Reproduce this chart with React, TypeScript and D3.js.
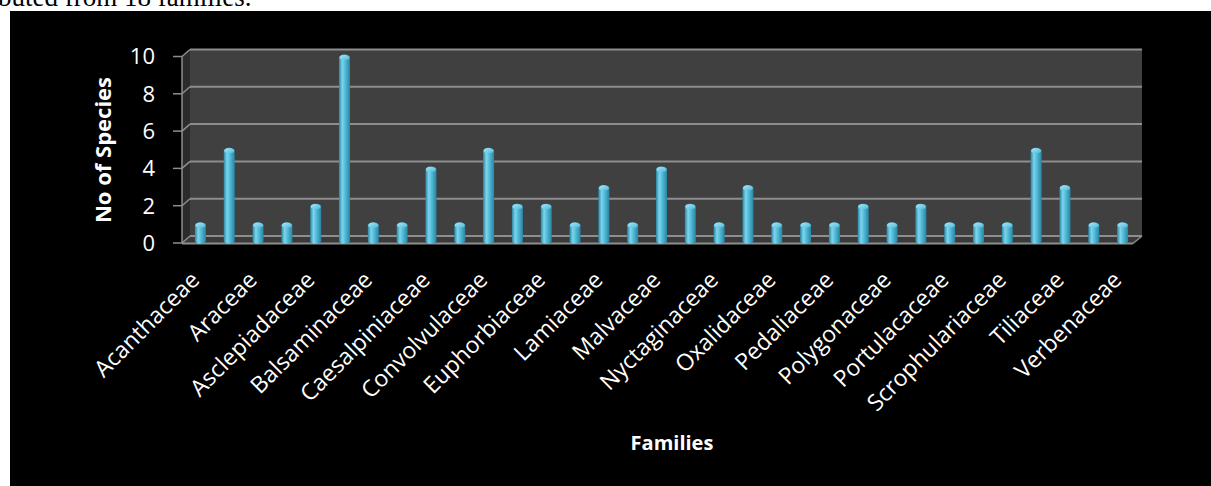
import React from "react";
import * as d3 from "d3";

const families = [
  "Acanthaceae", "Amaranthaceae", "Araceae", "Aristolochiaceae", "Asclepiadaceae",
  "Asteraceae", "Balsaminaceae", "Boraginaceae", "Caesalpiniaceae", "Capparaceae",
  "Convolvulaceae", "Cucurbitaceae", "Euphorbiaceae", "Fabaceae", "Lamiaceae",
  "Liliaceae", "Malvaceae", "Mimosaceae", "Nyctaginaceae", "Onagraceae",
  "Oxalidaceae", "Papilionaceae", "Pedaliaceae", "Poaceae", "Polygonaceae",
  "Pontederiaceae", "Portulacaceae", "Rubiaceae", "Scrophulariaceae", "Solanaceae",
  "Tiliaceae", "Urticaceae", "Verbenaceae",
];
const species = [
  1, 5, 1, 1, 2, 10, 1, 1, 4, 1, 5, 2, 2, 1, 3, 1, 4, 2, 1, 3, 1, 1, 1, 2, 1, 2, 1, 1, 1, 5, 3, 1, 1,
];
const yTicks = [0, 2, 4, 6, 8, 10];

const W = 1211;
const H = 486;
const X0 = 182;
const X1 = 1133;
const DX = 8;
const DY = -7;

export default function App() {
  const x = d3.scaleBand<string>().domain(families).range([X0, X1]).padding(0);
  const y = d3.scaleLinear().domain([0, 10]).range([243, 56.5]);
  const bw = 11;
  const font = "'Open Sans', 'DejaVu Sans', sans-serif";
  const grid = "#8e8e8e";

  return (
    <svg width={W} height={H} style={{ position: "absolute", left: 0, top: 0, display: "block" }}>
      <defs>
        <linearGradient id="cyl" x1="0" x2="1" y1="0" y2="0">
          <stop offset="0" stopColor="#2a87a3" />
          <stop offset="0.3" stopColor="#7ed4ec" />
          <stop offset="0.55" stopColor="#52bddb" />
          <stop offset="1" stopColor="#2a84a0" />
        </linearGradient>
        <linearGradient id="cap" x1="0" x2="1" y1="0" y2="1">
          <stop offset="0" stopColor="#a8e6f6" />
          <stop offset="1" stopColor="#4fb8d6" />
        </linearGradient>
      </defs>
      <rect x={0} y={0} width={W} height={H} fill="#ffffff" />
      <text x={-2} y={6} fontFamily="'Liberation Serif', 'Times New Roman', serif" fontSize={27} fill="#000">
        buted from 18 families.
      </text>
      <rect x={10} y={11} width={W - 10} height={H - 11} fill="#000000" />

      {/* back wall */}
      <rect x={X0 + DX} y={y(10) + DY} width={X1 + DX + 1 - (X0 + DX)} height={y(0) - y(10)} fill="#404040" />
      {/* side wall */}
      <polygon
        points={`${X0},${y(10)} ${X0 + DX},${y(10) + DY} ${X0 + DX},${y(0) + DY} ${X0},${y(0)}`}
        fill="#2b2b2b"
      />
      {/* floor */}
      <polygon
        points={`${X0},${y(0)} ${X0 + DX},${y(0) + DY} ${X1 + DX + 1},${y(0) + DY} ${X1},${y(0)}`}
        fill="#3a3a3a"
      />
      {/* gridlines */}
      {yTicks.map((t) => (
        <g key={t}>
          <line x1={X0 + DX} x2={X1 + DX + 1} y1={y(t) + DY} y2={y(t) + DY} stroke={grid} strokeWidth={2} />
          <line x1={X0} x2={X0 + DX} y1={y(t)} y2={y(t) + DY} stroke={grid} strokeWidth={1.5} />
          <line x1={X0 - 9} x2={X0} y1={y(t)} y2={y(t)} stroke={grid} strokeWidth={1.5} />
          <text
            x={155}
            y={y(t)}
            dy="0.36em"
            textAnchor="end"
            fontFamily={font}
            fontSize={22}
            fill="#ffffff"
          >
            {t}
          </text>
        </g>
      ))}
      {/* axis line and floor front edge */}
      <line x1={X0} x2={X0} y1={y(10)} y2={y(0)} stroke={grid} strokeWidth={1.5} />
      <line x1={X0} x2={X1} y1={y(0) + 0.5} y2={y(0) + 0.5} stroke={grid} strokeWidth={2} />
      <line x1={X1} x2={X1 + DX + 1} y1={y(0) + 0.5} y2={y(0) + DY} stroke={grid} strokeWidth={1.5} />

      {/* bars */}
      {families.map((f, i) => {
        const cx = (x(f) as number) + x.bandwidth() / 2 + DX / 2;
        const yb = y(0) + DY / 2 + 1.5;
        const yt = y(species[i]) + DY / 2 + 1.5;
        const ry = 3;
        return (
          <g key={f}>
            <path
              d={`M${cx - bw / 2},${yb} L${cx - bw / 2},${yt + ry} A${bw / 2},${ry} 0 0 1 ${cx + bw / 2},${yt + ry} L${cx + bw / 2},${yb} A${bw / 2},${ry} 0 0 1 ${cx - bw / 2},${yb} Z`}
              fill="url(#cyl)"
            />
            <ellipse cx={cx} cy={yt + ry} rx={bw / 2 - 0.5} ry={ry - 0.5} fill="url(#cap)" />
          </g>
        );
      })}

      {/* category labels */}
      {families.map((f, i) =>
        i % 2 === 0 ? (
          <text
            key={f}
            transform={`translate(${(x(f) as number) + x.bandwidth() / 2 - 7},${270}) rotate(-45)`}
            textAnchor="end"
            dy="0.7em"
            fontFamily={font}
            fontSize={23}
            fill="#ffffff"
          >
            {f}
          </text>
        ) : null
      )}

      {/* axis titles */}
      <text
        transform={`translate(111,150) rotate(-90)`}
        textAnchor="middle"
        fontFamily={font}
        fontWeight="bold"
        fontSize={22}
        fill="#ffffff"
      >
        No of Species
      </text>
      <text x={672} y={450} textAnchor="middle" fontFamily={font} fontWeight="bold" fontSize={20} fill="#ffffff">
        Families
      </text>
    </svg>
  );
}
